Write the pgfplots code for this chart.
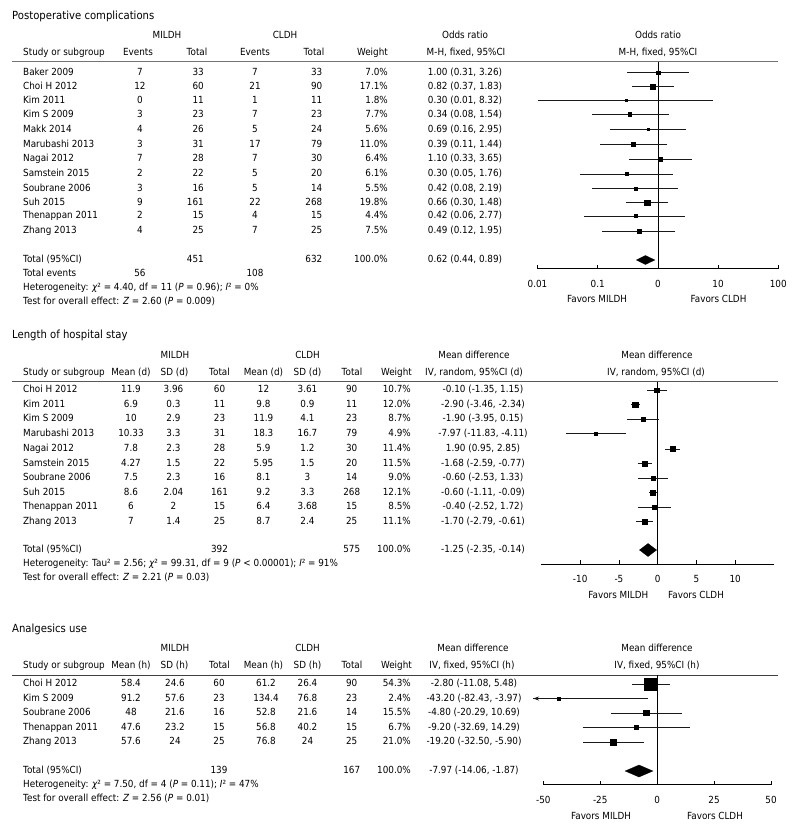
\documentclass[border=0pt]{standalone}
\usepackage{fontspec}
\setmainfont{DejaVu Sans}[FakeStretch=0.9]
\usepackage{pgfplots}
\usepackage{pgfplotstable}
\pgfplotsset{compat=1.18}
\usetikzlibrary{arrows.meta}

% Postoperative complications: y (pixel row), OR, lower, upper, half square side
\pgfplotstableread{
y est lo hi sz
-72.7 1.00 0.31 3.26 1.8
-86.5 0.82 0.37 1.83 2.5
-100.3 0.30 0.01 8.32 1.2
-114.5 0.34 0.08 1.54 1.8
-129.3 0.69 0.16 2.95 1.4
-144.5 0.39 0.11 1.44 2.2
-159.0 1.10 0.33 3.65 1.7
-174.0 0.30 0.05 1.76 1.6
-188.3 0.42 0.08 2.19 1.5
-202.5 0.66 0.30 1.48 2.8
-216.0 0.42 0.06 2.77 1.5
-231.0 0.49 0.12 1.95 1.7
}\tabA
% Length of hospital stay
\pgfplotstableread{
y est lo hi sz
-390.0 -0.10 -1.35 1.15 2.3
-404.5 -2.90 -3.46 -2.34 2.6
-419.0 -1.90 -3.95 0.15 2.1
-433.5 -7.97 -11.83 -4.11 1.6
-449.0 1.90 0.95 2.85 2.5
-463.5 -1.68 -2.59 -0.77 2.4
-478.0 -0.60 -2.53 1.33 2.1
-492.5 -0.60 -1.11 -0.09 2.5
-507.0 -0.40 -2.52 1.72 2.1
-521.5 -1.70 -2.79 -0.61 2.4
}\tabB
% Analgesics use (Kim S 2009 lower limit drawn to the edge with an arrow)
\pgfplotstableread{
y est lo hi sz
-684.0 -2.80 -11.08 5.48 6.2
-698.5 -43.20 -54.5 -3.97 1.7
-713.0 -4.80 -20.29 10.69 2.6
-727.5 -9.20 -32.69 14.29 2.0
-742.0 -19.20 -32.50 -5.90 3.0
}\tabC

\newcommand\drawci[1]{%
 \pgfplotstablegetrowsof{#1}%
 \pgfmathtruncatemacro\nrows{\pgfplotsretval-1}%
 \pgfplotsforeachungrouped \i in {0,...,\nrows}{%
  \pgfplotstablegetelem{\i}{y}\of{#1}\let\ciy\pgfplotsretval
  \pgfplotstablegetelem{\i}{lo}\of{#1}\let\cilo\pgfplotsretval
  \pgfplotstablegetelem{\i}{hi}\of{#1}\let\cihi\pgfplotsretval
  \edef\citmp{\noexpand\addplot[ciline] coordinates {(\cilo,\ciy) (\cihi,\ciy)};}\citmp
 }}

\newcommand\bodyfont{\fontsize{9.8}{11.5}\selectfont}
\newcommand\titlefont{\fontsize{11.2}{13}\selectfont}

\pgfplotsset{
 ciline/.style={black!90, line width=0.75pt, mark=none},
 sq/.style={scatter, only marks, mark=square*,
   scatter/use mapped color={draw=black,fill=black},
   visualization depends on={\thisrow{sz}\as\msz},
   scatter/@pre marker code/.append style={/tikz/mark size=\msz}},
 forest/.style={scale only axis, clip=false, anchor=north west,
   axis x line*=bottom, axis y line=none, ytick=\empty,
   tick align=inside, major tick length=4pt, xminorticks=false,
   xtick style={black, line width=0.8pt},
   axis line style={black, line width=0.8pt},
   xticklabel style={font=\bodyfont, yshift=-16.2pt, inner sep=0pt, anchor=mid},
   /pgf/number format/assume math mode=true}
}

\newcommand\Tl[3]{\node[anchor=mid west] at (#1,-#2) {#3};}
\newcommand\Tc[3]{\node[anchor=mid] at (#1,-#2) {#3};}
\newcommand\Tr[3]{\node[anchor=mid east] at (#1,-#2) {#3};}
\newcommand\Tt[2]{\node[anchor=mid west,font=\titlefont] at (12,-#1) {#2};}
\newcommand\rowA[8]{\Tl{23}{#1}{#2}\Tc{140}{#1}{#3}\Tr{204}{#1}{#4}\Tc{255}{#1}{#5}\Tr{322.5}{#1}{#6}\Tr{388}{#1}{#7}\Tc{465}{#1}{#8}}
\newcommand\rowB[9]{\Tl{23}{#1}{#2}\Tc{131}{#1}{#3}\Tc{173.5}{#1}{#4}\Tc{219.5}{#1}{#5}\Tc{263.5}{#1}{#6}\Tc{307.5}{#1}{#7}\Tc{351.7}{#1}{#8}\Tr{411}{#1}{#9}}
\newcommand\rowC[9]{\Tl{23}{#1}{#2}\Tc{131}{#1}{#3}\Tc{175}{#1}{#4}\Tc{219}{#1}{#5}\Tc{266}{#1}{#6}\Tc{307.5}{#1}{#7}\Tc{351.7}{#1}{#8}\Tr{411}{#1}{#9}}

\begin{document}
\begin{tikzpicture}[x=1pt,y=1pt,font=\bodyfont,every node/.style={inner sep=0pt}]
\path[use as bounding box] (0,0) rectangle (800,-832);

%================ Panel 1 =================
\Tt{17}{Postoperative complications}
\Tc{167}{36}{MILDH}\Tc{285}{36}{CLDH}\Tc{465}{36}{Odds ratio}\Tc{658}{36}{Odds ratio}
\Tl{23}{53}{Study or subgroup}\Tc{138}{53}{Events}\Tc{197}{53}{Total}\Tc{255}{53}{Events}\Tc{314}{53}{Total}\Tr{388}{53}{Weight}
\Tc{466}{53}{M-H, fixed, 95\%CI}\Tc{658}{53}{M-H, fixed, 95\%CI}
\draw[black!55, line width=1pt] (12,-62) -- (778,-62);
\rowA{72.7}{Baker 2009}{7}{33}{7}{33}{7.0\%}{1.00 (0.31, 3.26)}
\rowA{86.5}{Choi H 2012}{12}{60}{21}{90}{17.1\%}{0.82 (0.37, 1.83)}
\rowA{100.3}{Kim 2011}{0}{11}{1}{11}{1.8\%}{0.30 (0.01, 8.32)}
\rowA{114.5}{Kim S 2009}{3}{23}{7}{23}{7.7\%}{0.34 (0.08, 1.54)}
\rowA{129.3}{Makk 2014}{4}{26}{5}{24}{5.6\%}{0.69 (0.16, 2.95)}
\rowA{144.5}{Marubashi 2013}{3}{31}{17}{79}{11.0\%}{0.39 (0.11, 1.44)}
\rowA{159}{Nagai 2012}{7}{28}{7}{30}{6.4\%}{1.10 (0.33, 3.65)}
\rowA{174}{Samstein 2015}{2}{22}{5}{20}{6.1\%}{0.30 (0.05, 1.76)}
\rowA{188.3}{Soubrane 2006}{3}{16}{5}{14}{5.5\%}{0.42 (0.08, 2.19)}
\rowA{202.5}{Suh 2015}{9}{161}{22}{268}{19.8\%}{0.66 (0.30, 1.48)}
\rowA{216}{Thenappan 2011}{2}{15}{4}{15}{4.4\%}{0.42 (0.06, 2.77)}
\rowA{231}{Zhang 2013}{4}{25}{7}{25}{7.5\%}{0.49 (0.12, 1.95)}
\Tl{23}{259.5}{Total (95\%CI)}\Tr{204}{259.5}{451}\Tr{322.5}{259.5}{632}\Tr{388}{259.5}{100.0\%}\Tc{465}{259.5}{0.62 (0.44, 0.89)}
\Tl{23}{273.5}{Total events}\Tc{140}{273.5}{56}\Tc{255}{273.5}{108}
\Tl{23}{287.5}{Heterogeneity: {\itshape χ}² = 4.40, df = 11 ({\itshape P} = 0.96); {\itshape I}² = 0\%}
\Tl{23}{301.5}{Test for overall effect: {\itshape Z} = 2.60 ({\itshape P} = 0.009)}
\Tc{597}{299.5}{Favors MILDH}\Tc{718.5}{299.5}{Favors CLDH}

\begin{axis}[forest, at={(537.5pt,-62pt)}, width=240.8pt, height=206.5pt,
  xmode=log, log basis x=10, xmin=0.01, xmax=100, ymin=-268.5, ymax=-62,
  xtick={0.01,0.1,1,10,100},
  xticklabels={\textnormal{0.01},\textnormal{0.1},\textnormal{0},\textnormal{10},\textnormal{100}}]
 \addplot[black, line width=0.8pt] coordinates {(1,-62) (1,-268.5)};
 \drawci{\tabA}
 \addplot[sq] table[x=est,y=y]{\tabA};
 \addplot[fill=black, draw=black, line width=0.3pt] coordinates {(0.44,-260) (0.62,-255.5) (0.89,-260) (0.62,-264.5)} -- cycle;
\end{axis}

%================ Panel 2 =================
\Tt{336}{Length of hospital stay}
\Tc{175}{356}{MILDH}\Tc{307.5}{356}{CLDH}\Tc{474}{356}{Mean difference}\Tc{657}{356}{Mean difference}
\Tl{23}{372.7}{Study or subgroup}\Tc{131}{372.7}{Mean (d)}\Tc{174.5}{372.7}{SD (d)}\Tc{219.5}{372.7}{Total}\Tc{263.5}{372.7}{Mean (d)}\Tc{307.5}{372.7}{SD (d)}\Tc{352}{372.7}{Total}\Tr{412}{372.7}{Weight}
\Tc{474}{372.7}{IV, random, 95\%CI (d)}\Tc{656}{372.7}{IV, random, 95\%CI (d)}
\draw[black!65, line width=1pt] (12,-381.7) -- (778,-381.7);
\rowB{390}{Choi H 2012}{11.9}{3.96}{60}{12}{3.61}{90}{10.7\%}\Tc{483}{390}{-0.10 (-1.35, 1.15)}
\rowB{404.5}{Kim 2011}{6.9}{0.3}{11}{9.8}{0.9}{11}{12.0\%}\Tc{483}{404.5}{-2.90 (-3.46, -2.34)}
\rowB{419}{Kim S 2009}{10}{2.9}{23}{11.9}{4.1}{23}{8.7\%}\Tc{483}{419}{-1.90 (-3.95, 0.15)}
\rowB{433.5}{Marubashi 2013}{10.33}{3.3}{31}{18.3}{16.7}{79}{4.9\%}\Tc{483}{433.5}{-7.97 (-11.83, -4.11)}
\rowB{449}{Nagai 2012}{7.8}{2.3}{28}{5.9}{1.2}{30}{11.4\%}\Tc{483}{449}{1.90 (0.95, 2.85)}
\rowB{463.5}{Samstein 2015}{4.27}{1.5}{22}{5.95}{1.5}{20}{11.5\%}\Tc{483}{463.5}{-1.68 (-2.59, -0.77)}
\rowB{478}{Soubrane 2006}{7.5}{2.3}{16}{8.1}{3}{14}{9.0\%}\Tc{483}{478}{-0.60 (-2.53, 1.33)}
\rowB{492.5}{Suh 2015}{8.6}{2.04}{161}{9.2}{3.3}{268}{12.1\%}\Tc{483}{492.5}{-0.60 (-1.11, -0.09)}
\rowB{507}{Thenappan 2011}{6}{2}{15}{6.4}{3.68}{15}{8.5\%}\Tc{483}{507}{-0.40 (-2.52, 1.72)}
\rowB{521.5}{Zhang 2013}{7}{1.4}{25}{8.7}{2.4}{25}{11.1\%}\Tc{483}{521.5}{-1.70 (-2.79, -0.61)}
\Tl{23}{550}{Total (95\%CI)}\Tc{219.5}{550}{392}\Tc{351.7}{550}{575}\Tr{411}{550}{100.0\%}\Tc{483}{550}{-1.25 (-2.35, -0.14)}
\Tl{23}{564}{Heterogeneity: Tau² = 2.56; {\itshape χ}² = 99.31, df = 9 ({\itshape P} < 0.00001); {\itshape I}² = 91\%}
\Tl{23}{578}{Test for overall effect: {\itshape Z} = 2.21 ({\itshape P} = 0.03)}
\Tc{618.3}{595.5}{Favors MILDH}\Tc{696}{595.5}{Favors CLDH}

\begin{axis}[forest, at={(541.4pt,-381.7pt)}, width=232.6pt, height=182.3pt,
  xmin=-15, xmax=15, ymin=-564, ymax=-381.7,
  xtick={-10,-5,0,5,10},
  xticklabels={\textnormal{-10},\textnormal{-5},\textnormal{0},\textnormal{5},\textnormal{10}}]
 \addplot[black, line width=0.8pt] coordinates {(0,-381.7) (0,-564)};
 \drawci{\tabB}
 \addplot[sq] table[x=est,y=y]{\tabB};
 \addplot[fill=black, draw=black, line width=0.3pt] coordinates {(-2.35,-550) (-1.25,-543.5) (-0.14,-550) (-1.25,-556.5)} -- cycle;
\end{axis}

%================ Panel 3 =================
\Tt{630}{Analgesics use}
\Tc{175}{648.5}{MILDH}\Tc{307.5}{648.5}{CLDH}\Tc{473}{648.5}{Mean difference}\Tc{657}{648.5}{Mean difference}
\Tl{23}{666}{Study or subgroup}\Tc{131}{666}{Mean (h)}\Tc{174.5}{666}{SD (h)}\Tc{219.5}{666}{Total}\Tc{263.5}{666}{Mean (h)}\Tc{307.5}{666}{SD (h)}\Tc{352}{666}{Total}\Tr{412}{666}{Weight}
\Tc{472}{666}{IV, fixed, 95\%CI (h)}\Tc{657}{666}{IV, fixed, 95\%CI (h)}
\draw[black!75, line width=1pt] (12,-675) -- (778,-675);
\rowC{684}{Choi H 2012}{58.4}{24.6}{60}{61.2}{26.4}{90}{54.3\%}\Tc{474}{684}{-2.80 (-11.08, 5.48)}
\rowC{698.5}{Kim S 2009}{91.2}{57.6}{23}{134.4}{76.8}{23}{2.4\%}\Tc{474}{698.5}{-43.20 (-82.43, -3.97)}
\rowC{713}{Soubrane 2006}{48}{21.6}{16}{52.8}{21.6}{14}{15.5\%}\Tc{474}{713}{-4.80 (-20.29, 10.69)}
\rowC{727.5}{Thenappan 2011}{47.6}{23.2}{15}{56.8}{40.2}{15}{6.7\%}\Tc{474}{727.5}{-9.20 (-32.69, 14.29)}
\rowC{742}{Zhang 2013}{57.6}{24}{25}{76.8}{24}{25}{21.0\%}\Tc{474}{742}{-19.20 (-32.50, -5.90)}
\Tl{23}{770.5}{Total (95\%CI)}\Tc{219}{770.5}{139}\Tc{351.7}{770.5}{167}\Tr{411}{770.5}{100.0\%}\Tc{474}{770.5}{-7.97 (-14.06, -1.87)}
\Tl{23}{785}{Heterogeneity: {\itshape χ}² = 7.50, df = 4 ({\itshape P} = 0.11); {\itshape I}² = 47\%}
\Tl{23}{799}{Test for overall effect: {\itshape Z} = 2.56 ({\itshape P} = 0.01)}
\Tc{601}{816.5}{Favors MILDH}\Tc{715}{816.5}{Favors CLDH}

\begin{axis}[forest, at={(543.3pt,-675pt)}, width=227.7pt, height=109.5pt,
  xmin=-50, xmax=50, ymin=-784.5, ymax=-675,
  xtick={-50,-25,0,25,50},
  xticklabels={\textnormal{-50},\textnormal{-25},\textnormal{0},\textnormal{25},\textnormal{50}}]
 \addplot[black, line width=0.8pt] coordinates {(0,-675) (0,-784.5)};
 \drawci{\tabC}
 \addplot[black!90, line width=0.75pt, -{Stealth[length=6pt,width=4pt]}] coordinates {(-45,-698.5) (-54.5,-698.5)};
 \addplot[sq] table[x=est,y=y]{\tabC};
 \addplot[fill=black, draw=black, line width=0.3pt] coordinates {(-14.06,-771) (-7.97,-765) (-1.87,-771) (-7.97,-777)} -- cycle;
\end{axis}
\end{tikzpicture}
\end{document}
